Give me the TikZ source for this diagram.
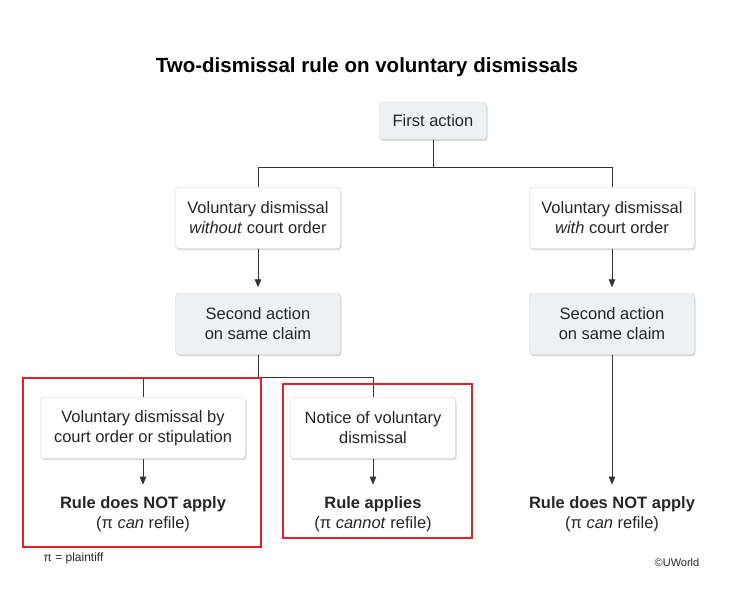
\documentclass[tikz,border=0pt]{standalone}
\usepackage{fontspec}
\setmainfont{Liberation Sans}
\usetikzlibrary{arrows.meta,shadows}
\definecolor{boxgray}{HTML}{EEF1F4}
\definecolor{linegray}{HTML}{333333}
\definecolor{redframe}{HTML}{E3202A}

\begin{document}
\begin{tikzpicture}[x=1pt, y=-1pt,
  box/.style={draw=gray!40, rounded corners=3pt, fill=white, align=center,
    text=black!85, inner sep=0pt, minimum width=165pt, minimum height=61pt,
    drop shadow={shadow xshift=1pt, shadow yshift=-1.5pt, opacity=0.3}},
  graybox/.style={box, fill=boxgray},
  result/.style={align=center, text=black!85},
  link/.style={draw=linegray, line width=0.8pt},
  arr/.style={link, -{Triangle[length=8pt,width=6.5pt]}, shorten >=6pt}]

  \fontsize{16.5}{20}\selectfont

  \useasboundingbox (0,0) rectangle (739,591);

  \node[font=\bfseries\fontsize{20.5}{22}\selectfont] (title) at (367,67) {Two-dismissal rule on voluntary dismissals};

  \node[graybox, minimum width=107pt, minimum height=37pt] (first) at (433,121) {First action};

  \node[box] (withoutL) at (258,218) {Voluntary dismissal\\\textit{without} court order};
  \node[box] (withR) at (612,218) {Voluntary dismissal\\\textit{with} court order};

  \node[graybox] (secondL) at (258,324) {Second action\\on same claim};
  \node[graybox] (secondR) at (612,324) {Second action\\on same claim};

  \node[box, minimum width=205pt] (stipL) at (143,428) {Voluntary dismissal by\\court order or stipulation};
  \node[box] (notice) at (373,428) {Notice of voluntary\\dismissal};

  \node[result] (ruleL) at (143,514) {\textbf{Rule does NOT apply}\\(π \textit{can} refile)};
  \node[result] (ruleM) at (373,514) {\textbf{Rule applies}\\(π \textit{cannot} refile)};
  \node[result] (ruleR) at (612,514) {\textbf{Rule does NOT apply}\\(π \textit{can} refile)};

  \draw[link] (first.south) -- ++(0,28) coordinate (split1) -| (withoutL.north); %% first -> without
  \draw[link] (split1) -| (withR.north); %% first -> with

  \draw[arr] (withoutL.south) -- (secondL.north);
  \draw[arr] (withR.south) -- (secondR.north);

  \draw[link] (secondL.south) -- ++(0,23) coordinate (split2) -| (stipL.north); %% second -> stipulation
  \draw[link] (split2) -| (notice.north); %% second -> notice

  \draw[arr] (stipL.south) -- (ruleL.north);
  \draw[arr] (notice.south) -- (ruleM.north);
  \draw[arr] (secondR.south) -- (ruleR.north);

  % red frames
  \draw[redframe, line width=1.5pt] (23,378) rectangle (261,547);
  \draw[redframe, line width=1.5pt] (283,384) rectangle (472,538);

  \node[anchor=west, text=black!85, font=\fontsize{12}{14}\selectfont] (pinote) at (38,558) {π = plaintiff};
  \node[anchor=east, text=black!85, font=\fontsize{11}{13}\selectfont] (copyr) at (705,563) {©UWorld};

\end{tikzpicture}
\end{document}
